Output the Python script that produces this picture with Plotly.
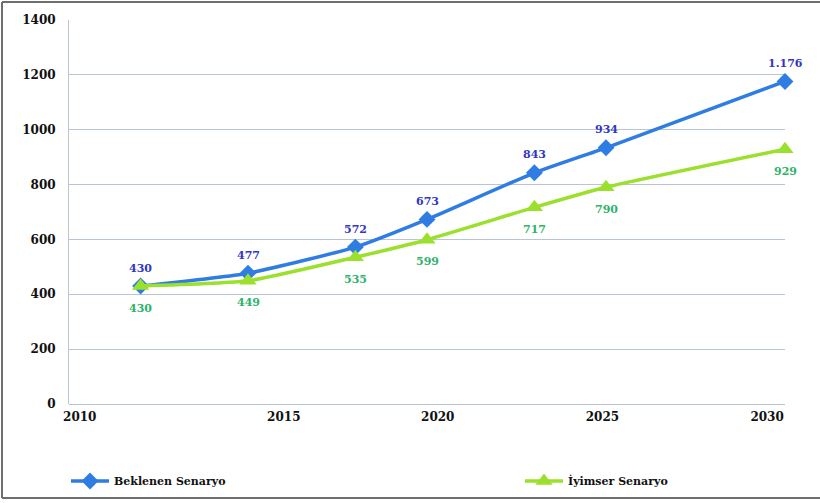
import plotly.graph_objects as go

# Projected values (years on a linear axis)
years = [2012, 2015, 2018, 2020, 2023, 2025, 2030]
beklenen = [430, 477, 572, 673, 843, 934, 1176]
iyimser = [430, 449, 535, 599, 717, 790, 929]

series_names = ["Beklenen Senaryo", "İyimser Senaryo"]
x_tick_labels = ["2010", "2015", "2020", "2025", "2030"]
y_tick_values = [0, 200, 400, 600, 800, 1000, 1200, 1400]

# layout constants
W, H = 820, 503
ML, MR, MT, MB = 69, 35, 20, 99
PW, PH = W - ML - MR, H - MT - MB
x_tick_pos = [2010.3, 2016.0, 2020.3, 2024.9, 2029.5]

BLUE = "#2F7DE3"
GREEN = "#9BE02C"
BLUE_TXT = "#3336C4"
GREEN_TXT = "#2EB36A"
GRID = "#B9C5D6"
FONT = "DejaVu Serif"


def fmt(v):
    return f"{v:,}".replace(",", ".")


def px_x(p):
    return (p - ML) / PW


def px_y(q):
    return (H - MB - q) / PH


fig = go.Figure()
fig.add_trace(go.Scatter(
    x=years, y=beklenen, name=series_names[0],
    mode="lines+markers", legend="legend",
    line=dict(color=BLUE, width=3.5, shape="spline", smoothing=0.5),
    marker=dict(symbol="diamond", size=13, color=BLUE),
    cliponaxis=False,
))
fig.add_trace(go.Scatter(
    x=years, y=iyimser, name=series_names[1],
    mode="lines+markers", legend="legend2",
    line=dict(color=GREEN, width=3.5, shape="spline", smoothing=0.5),
    marker=dict(symbol="triangle-up", size=15, color=GREEN),
    cliponaxis=False,
))

# value labels: above the blue points, below the green ones
for x, v in zip(years, beklenen):
    fig.add_annotation(x=x, y=v, text=fmt(v), showarrow=False, yshift=18,
                       font=dict(family=FONT, size=11, color=BLUE_TXT, weight="bold"))
for x, v in zip(years, iyimser):
    fig.add_annotation(x=x, y=v, text=fmt(v), showarrow=False, yshift=-22,
                       font=dict(family=FONT, size=11, color=GREEN_TXT, weight="bold"))

# outer frame: left, top, bottom edges
frame = dict(type="line", xref="paper", yref="paper",
             line=dict(color="#6E6E6E", width=2), layer="above")
fig.add_shape(**frame, x0=px_x(2), x1=px_x(2), y0=px_y(2), y1=px_y(498))
fig.add_shape(**frame, x0=px_x(2), x1=px_x(820), y0=px_y(2), y1=px_y(2))
fig.add_shape(**frame, x0=px_x(2), x1=px_x(820), y0=px_y(498), y1=px_y(498))

legend_font = dict(family=FONT, size=11, color="#111111", weight="bold")
legend_common = dict(
    orientation="h", xref="container", yref="container",
    y=1 - 481 / H, xanchor="left", yanchor="middle",
    itemwidth=38, font=legend_font, bgcolor="rgba(0,0,0,0)",
)
fig.update_layout(
    width=W, height=H,
    margin=dict(l=ML, r=MR, t=MT, b=MB),
    paper_bgcolor="white", plot_bgcolor="white",
    font=dict(family=FONT, size=11, color="#111111"),
    showlegend=True,
    legend=dict(legend_common, x=66 / W),
    legend2=dict(legend_common, x=520 / W),
    xaxis=dict(
        range=[2010, 2030], tickmode="array",
        tickvals=x_tick_pos, ticktext=x_tick_labels,
        showgrid=False, zeroline=False, showline=False,
        ticks="", ticklabelstandoff=4,
        tickfont=dict(family=FONT, size=12, color="#111111", weight="bold"),
    ),
    yaxis=dict(
        range=[0, 1400], tickmode="array", tickvals=y_tick_values,
        showgrid=True, gridcolor=GRID, gridwidth=1,
        zeroline=True, zerolinecolor=GRID, zerolinewidth=1,
        showline=True, linecolor=GRID, linewidth=1,
        ticks="", ticklabelstandoff=10,
        tickfont=dict(family=FONT, size=12, color="#111111", weight="bold"),
    ),
)

fig.write_html("out.html")
